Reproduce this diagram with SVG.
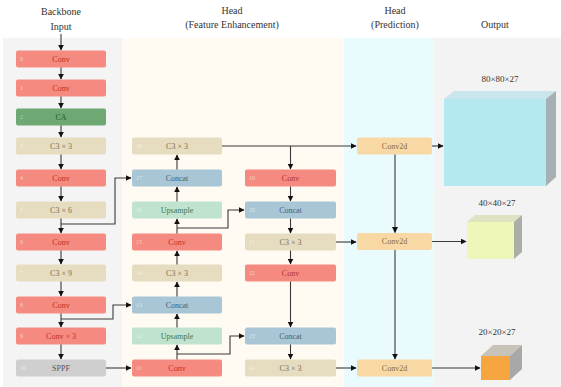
<svg xmlns="http://www.w3.org/2000/svg" width="561" height="387" viewBox="0 0 561 387">
<style>
.t{font-family:"Liberation Serif",serif;font-size:10px;fill:#333;text-anchor:middle}
.b{font-family:"Liberation Serif",serif;font-size:8px;text-anchor:middle;dominant-baseline:central}
.n{font-family:"Liberation Serif",serif;font-size:6px;text-anchor:start;dominant-baseline:central;opacity:.55}
.conv rect{fill:#f58b80}.conv .b{fill:#b5322a}.conv .n{fill:#fff}
.ca rect{fill:#6ea872}.ca .b{fill:#2d5a30}.ca .n{fill:#dfe}
.c3 rect{fill:#e6dcc0}.c3 .b{fill:#7a6f50}.c3 .n{fill:#fff}
.cat rect{fill:#a9c6d6}.cat .b{fill:#3e6478}.cat .n{fill:#fff}
.up rect{fill:#bfe3cf}.up .b{fill:#3d7a57}.up .n{fill:#fff}
.sp rect{fill:#cfcfcf}.sp .b{fill:#555}.sp .n{fill:#fff}
.pd rect{fill:#f8d9a6}.pd .b{fill:#8a6a2e}
.ln{fill:none;stroke:#3a3a3a;stroke-width:1.1;marker-end:url(#ah)}
</style>
<defs>
<marker id="ah" viewBox="0 0 10 10" refX="9" refY="5" markerWidth="6" markerHeight="6" markerUnits="userSpaceOnUse" orient="auto">
<path d="M0,0 L10,5 L0,10 z" fill="#111"/>
</marker>
</defs>
<rect width="561" height="387" fill="#ffffff"/>
<g id="panels">
<rect x="3" y="38" width="119" height="349" fill="#f4f4f4"/>
<rect x="122" y="38" width="222" height="349" fill="#fffaf2"/>
<rect x="344" y="38" width="90" height="349" fill="#eafbfe"/>
<rect x="434" y="38" width="127" height="349" fill="#f3f3f3"/>
</g>
<g id="titles">
<text class="t" x="61" y="15">Backbone</text>
<text class="t" x="61" y="30">Input</text>
<text class="t" x="232" y="14">Head</text>
<text class="t" x="232" y="28">(Feature Enhancement)</text>
<text class="t" x="395" y="14">Head</text>
<text class="t" x="395" y="28">(Prediction)</text>
<text class="t" x="495" y="28">Output</text>
</g>
<g id="backbone">
<g id="b0" class="conv"><rect x="16" y="50.5" width="90" height="17" rx="2"/><text class="n" x="20" y="59">0</text><text class="b" x="61" y="59">Conv</text></g>
<g id="b1" class="conv"><rect x="16" y="79.5" width="90" height="17" rx="2"/><text class="n" x="20" y="88">1</text><text class="b" x="61" y="88">Conv</text></g>
<g id="b2" class="ca"><rect x="16" y="108.5" width="90" height="17" rx="2"/><text class="n" x="20" y="117">2</text><text class="b" x="61" y="117">CA</text></g>
<g id="b3" class="c3"><rect x="16" y="137.5" width="90" height="17" rx="2"/><text class="n" x="20" y="146">3</text><text class="b" x="61" y="146">C3 × 3</text></g>
<g id="b4" class="conv"><rect x="16" y="169.5" width="90" height="17" rx="2"/><text class="n" x="20" y="178">4</text><text class="b" x="61" y="178">Conv</text></g>
<g id="b5" class="c3"><rect x="16" y="201.5" width="90" height="17" rx="2"/><text class="n" x="20" y="210">5</text><text class="b" x="61" y="210">C3 × 6</text></g>
<g id="b6" class="conv"><rect x="16" y="233.5" width="90" height="17" rx="2"/><text class="n" x="20" y="242">6</text><text class="b" x="61" y="242">Conv</text></g>
<g id="b7" class="c3"><rect x="16" y="264.5" width="90" height="17" rx="2"/><text class="n" x="20" y="273">7</text><text class="b" x="61" y="273">C3 × 9</text></g>
<g id="b8" class="conv"><rect x="16" y="296.5" width="90" height="17" rx="2"/><text class="n" x="20" y="305">8</text><text class="b" x="61" y="305">Conv</text></g>
<g id="b9" class="conv"><rect x="16" y="327.5" width="90" height="17" rx="2"/><text class="n" x="20" y="336">9</text><text class="b" x="61" y="336">Conv × 3</text></g>
<g id="b10" class="sp"><rect x="16" y="359.5" width="90" height="17" rx="2"/><text class="n" x="20" y="368">10</text><text class="b" x="61" y="368">SPPF</text></g>
</g>
<g id="head1">
<g id="h18" class="c3"><rect x="132" y="137.5" width="90" height="17" rx="2"/><text class="n" x="136" y="146">18</text><text class="b" x="177" y="146">C3 × 3</text></g>
<g id="h17" class="cat"><rect x="132" y="169.5" width="90" height="17" rx="2"/><text class="n" x="136" y="178">17</text><text class="b" x="177" y="178">Concat</text></g>
<g id="h16" class="up"><rect x="132" y="201.5" width="90" height="17" rx="2"/><text class="n" x="136" y="210">16</text><text class="b" x="177" y="210">Upsample</text></g>
<g id="h15" class="conv"><rect x="132" y="233.5" width="90" height="17" rx="2"/><text class="n" x="136" y="242">15</text><text class="b" x="177" y="242">Conv</text></g>
<g id="h14" class="c3"><rect x="132" y="264.5" width="90" height="17" rx="2"/><text class="n" x="136" y="273">14</text><text class="b" x="177" y="273">C3 × 3</text></g>
<g id="h13" class="cat"><rect x="132" y="296.5" width="90" height="17" rx="2"/><text class="n" x="136" y="305">13</text><text class="b" x="177" y="305">Concat</text></g>
<g id="h12" class="up"><rect x="132" y="327.5" width="90" height="17" rx="2"/><text class="n" x="136" y="336">12</text><text class="b" x="177" y="336">Upsample</text></g>
<g id="h11" class="conv"><rect x="132" y="359.5" width="90" height="17" rx="2"/><text class="n" x="136" y="368">11</text><text class="b" x="177" y="368">Conv</text></g>
</g>
<g id="head2">
<g id="h19" class="conv"><rect x="245" y="169.5" width="91" height="17" rx="2"/><text class="n" x="249" y="178">19</text><text class="b" x="290.5" y="178">Conv</text></g>
<g id="h20" class="cat"><rect x="245" y="201.5" width="91" height="17" rx="2"/><text class="n" x="249" y="210">20</text><text class="b" x="290.5" y="210">Concat</text></g>
<g id="h21" class="c3"><rect x="245" y="233.5" width="91" height="17" rx="2"/><text class="n" x="249" y="242">21</text><text class="b" x="290.5" y="242">C3 × 3</text></g>
<g id="h22" class="conv"><rect x="245" y="264.5" width="91" height="17" rx="2"/><text class="n" x="249" y="273">22</text><text class="b" x="290.5" y="273">Conv</text></g>
<g id="h23" class="cat"><rect x="245" y="327.5" width="91" height="17" rx="2"/><text class="n" x="249" y="336">23</text><text class="b" x="290.5" y="336">Concat</text></g>
<g id="h24" class="c3"><rect x="245" y="359.5" width="91" height="17" rx="2"/><text class="n" x="249" y="368">24</text><text class="b" x="290.5" y="368">C3 × 3</text></g>
</g>
<g id="pred">
<g id="p1" class="pd"><rect x="357" y="137.5" width="75" height="17" rx="2"/><text class="b" x="394.5" y="146">Conv2d</text></g>
<g id="p2" class="pd"><rect x="357" y="233" width="75" height="17" rx="2"/><text class="b" x="394.5" y="241.5">Conv2d</text></g>
<g id="p3" class="pd"><rect x="357" y="359.5" width="75" height="17" rx="2"/><text class="b" x="394.5" y="368">Conv2d</text></g>
</g>
<g id="outputs">
<g id="o1">
<polygon points="444,99 454,91 556,91 546,99" fill="#c9e6ec"/>
<polygon points="546,99 556,91 556,177 546,186" fill="#a6b0b4"/>
<rect x="444" y="99" width="102" height="87" fill="#b4e9f2"/>
<text class="t" x="500" y="82" style="font-size:9px">80×80×27</text>
</g>
<g id="o2">
<polygon points="467,222 475,215 522,215 514,222" fill="#dfe3c4"/>
<polygon points="514,222 522,215 522,252 514,259" fill="#a9aea6"/>
<rect x="467" y="222" width="47" height="37" fill="#eef6b8"/>
<text class="t" x="497" y="206" style="font-size:9px">40×40×27</text>
</g>
<g id="o3">
<polygon points="481,356 493,345 522,345 510,356" fill="#c8c3b8"/>
<polygon points="510,356 522,345 522,369 510,380" fill="#a8a8a8"/>
<rect x="481" y="356" width="29" height="24" fill="#f5a640"/>
<text class="t" x="497" y="335" style="font-size:9px">20×20×27</text>
</g>
</g>
<g id="connectors">
<path class="ln" d="M61,34 V50"/>
<path class="ln" d="M61,67.5 V79"/>
<path class="ln" d="M61,96.5 V108"/>
<path class="ln" d="M61,125.5 V137"/>
<path class="ln" d="M61,154.5 V169"/>
<path class="ln" d="M61,186.5 V201"/>
<path class="ln" d="M61,218.5 V233"/>
<path class="ln" d="M61,250.5 V264"/>
<path class="ln" d="M61,281.5 V296"/>
<path class="ln" d="M61,313.5 V327"/>
<path class="ln" d="M61,344.5 V359"/>
<path class="ln" d="M61,224 H115 V178 H131"/>
<path class="ln" d="M61,319 H113 V305 H131"/>
<path class="ln" d="M106,368 H131"/>
<path class="ln" d="M177,359.5 V345"/>
<path class="ln" d="M177,327.5 V314"/>
<path class="ln" d="M177,296.5 V282"/>
<path class="ln" d="M177,264.5 V251"/>
<path class="ln" d="M177,233.5 V219"/>
<path class="ln" d="M177,201.5 V187"/>
<path class="ln" d="M177,169.5 V155"/>
<path class="ln" d="M177,228 H228 V210 H244"/>
<path class="ln" d="M177,354 H230 V336 H244"/>
<path class="ln" d="M222,146 H356"/>
<path class="ln" d="M290.5,146 V169"/>
<path class="ln" d="M290.5,186.5 V201"/>
<path class="ln" d="M290.5,218.5 V233"/>
<path class="ln" d="M290.5,250.5 V264"/>
<path class="ln" d="M290.5,281.5 V327"/>
<path class="ln" d="M290.5,344.5 V359"/>
<path class="ln" d="M336,242 H356"/>
<path class="ln" d="M336,368 H356"/>
<path class="ln" d="M395,154.5 V232.5"/>
<path class="ln" d="M395,250 V359"/>
<path class="ln" d="M432,146 H443"/>
<path class="ln" d="M432,241.5 H466"/>
<path class="ln" d="M432,368 H480"/>
</g>
</svg>
